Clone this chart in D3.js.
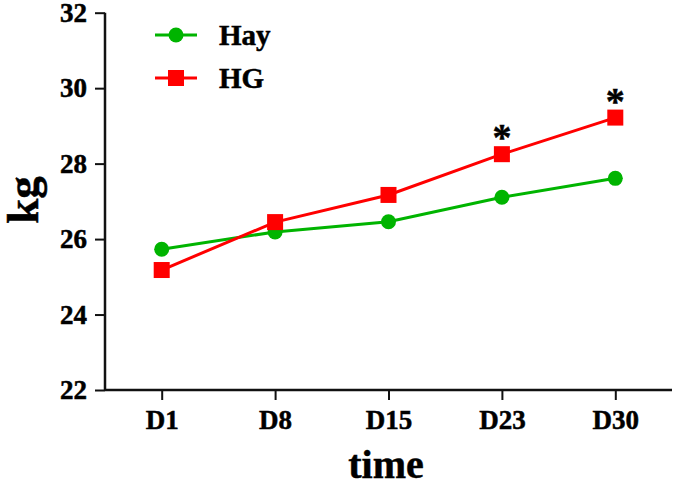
<!DOCTYPE html>
<html>
<head>
<meta charset="utf-8">
<script src="https://cdn.jsdelivr.net/npm/d3@7"></script>
<style>
  body { margin: 0; background: #fff; }
  text { font-family: "Liberation Serif", "Times New Roman", serif; font-weight: bold; stroke: #000; stroke-width: 0.5px; }
</style>
</head>
<body>
<div id="chart-area"></div>
<script>
let width = 675,
height = 484;

// data
let days = ["D1", "D8", "D15", "D23", "D30"];
let hay = [25.73, 26.19, 26.46, 27.11, 27.61];
let hg = [25.18, 26.45, 27.17, 28.25, 29.22];
let signif = ["D23", "D30"];   // days with a star
let yTicks = [22, 24, 26, 28, 30, 32];

let green = "#00b400",
red = "#ff0000";

let svg = d3.select("#chart-area").append("svg")
	.attr("width", width)
	.attr("height", height);

let x = d3.scalePoint()
	.domain(days)
	.range([105, 672])
	.padding(0.5);

let y = d3.scaleLinear()
	.domain([22, 32])
	.range([390, 12.7]);

// axes
let yAxis = svg.append("g")
	.attr("transform", "translate(105,0)")
	.call(d3.axisLeft(y).tickValues(yTicks).tickSize(10).tickPadding(8).tickSizeOuter(0));

let xAxis = svg.append("g")
	.attr("transform", "translate(0,390)")
	.call(d3.axisBottom(x).tickSize(10).tickPadding(10).tickSizeOuter(0));

[xAxis, yAxis].forEach(g => {
	g.select(".domain").attr("stroke", "#111").attr("stroke-width", 2.5);
	g.selectAll(".tick line").attr("stroke", "#111").attr("stroke-width", 2);
	g.selectAll(".tick text")
		.attr("fill", "#000")
		.style("font-size", "27px")
		.style("font-family", "'Liberation Serif', serif")
		.style("font-weight", "bold");
});
// x axis line goes from the y axis to the right edge
xAxis.select(".domain").attr("d", "M105,0H672");
yAxis.select(".domain").attr("d", "M0,12.7V390");

// axis titles
svg.append("text")
	.attr("x", 386)
	.attr("y", 478)
	.attr("text-anchor", "middle")
	.style("font-size", "40px")
	.text("time");

svg.append("text")
	.attr("transform", "translate(38,200) rotate(-90)")
	.attr("text-anchor", "middle")
	.style("font-size", "45px")
	.text("kg");

// lines
let line = d3.line()
	.x((d, i) => x(days[i]))
	.y(d => y(d));

svg.append("path")
	.datum(hay)
	.attr("d", line)
	.attr("fill", "none")
	.attr("stroke", green)
	.attr("stroke-width", 3);

svg.append("path")
	.datum(hg)
	.attr("d", line)
	.attr("fill", "none")
	.attr("stroke", red)
	.attr("stroke-width", 3);

// markers
svg.selectAll(".hay")
	.data(hay)
	.enter()
	.append("circle")
	.attr("class", "hay")
	.attr("cx", (d, i) => x(days[i]))
	.attr("cy", d => y(d))
	.attr("r", 7.5)
	.attr("fill", green);

svg.selectAll(".hg")
	.data(hg)
	.enter()
	.append("rect")
	.attr("class", "hg")
	.attr("x", (d, i) => x(days[i]) - 8)
	.attr("y", d => y(d) - 8)
	.attr("width", 16)
	.attr("height", 16)
	.attr("fill", red);

// stars above HG
svg.selectAll(".star")
	.data(signif)
	.enter()
	.append("text")
	.attr("class", "star")
	.attr("x", d => x(d))
	.attr("y", d => y(hg[days.indexOf(d)]) - 4)
	.attr("text-anchor", "middle")
	.style("font-size", "38px")
	.text("*");

// legend
let legend = [
	{name: "Hay", color: green, shape: "circle", y: 35},
	{name: "HG", color: red, shape: "square", y: 78}
];

legend.forEach(l => {
	let g = svg.append("g").attr("transform", "translate(0," + l.y + ")");
	g.append("line")
		.attr("x1", 155).attr("x2", 197)
		.attr("stroke", l.color)
		.attr("stroke-width", 3);
	if (l.shape == "circle") {
		g.append("circle").attr("cx", 176).attr("r", 7.5).attr("fill", l.color);
	} else {
		g.append("rect").attr("x", 168).attr("y", -8).attr("width", 16).attr("height", 16).attr("fill", l.color);
	}
	g.append("text")
		.attr("x", 219)
		.attr("y", 10)
		.style("font-size", "29px")
		.text(l.name);
});
</script>
</body>
</html>
